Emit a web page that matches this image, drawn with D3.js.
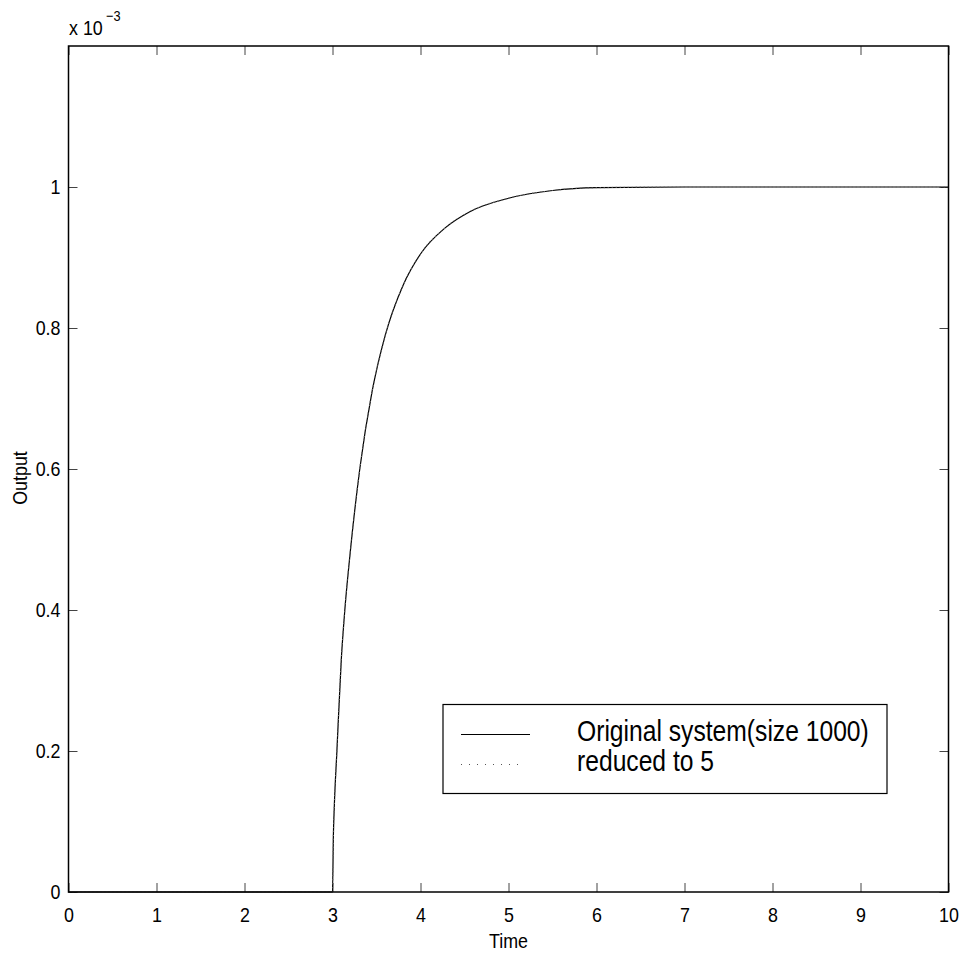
<!DOCTYPE html>
<html>
<head>
<meta charset="utf-8">
<script src="https://cdn.jsdelivr.net/npm/d3@7"></script>
<style>
  body { margin: 0; background: #fff; }
  svg text { font-family: "Liberation Sans", Arial, sans-serif; fill: #000; }
</style>
</head>
<body>
<svg id="chart"></svg>
<script>
// step response (output in units of 1e-3)
const timeOrig   = [0, 1, 2, 3, 3.01, 3.02, 3.05, 3.1, 3.14, 3.2, 3.31, 3.45, 3.6, 3.8, 4, 4.28, 4.56, 5, 5.5, 6, 7, 8, 9, 10]
const outputOrig = [0, 0, 0, 0, 0.08, 0.12, 0.2, 0.33, 0.4, 0.48, 0.6, 0.71, 0.79, 0.86, 0.905, 0.942, 0.965, 0.984, 0.995, 0.999, 1, 1, 1, 1]
const timeRed    = [0, 1, 2, 3, 3.01, 3.02, 3.05, 3.1, 3.14, 3.2, 3.31, 3.45, 3.6, 3.8, 4, 4.28, 4.56, 5, 5.5, 6, 7, 8, 9, 10]
const outputRed  = [0, 0, 0, 0, 0.08, 0.12, 0.2, 0.33, 0.4, 0.48, 0.6, 0.71, 0.79, 0.86, 0.905, 0.942, 0.965, 0.984, 0.995, 0.999, 1, 1, 1, 1]

const xTicks = [0, 1, 2, 3, 4, 5, 6, 7, 8, 9, 10]
const yTicks = [0, 0.2, 0.4, 0.6, 0.8, 1]
const legendLabels = ["Original system(size 1000)", "reduced to 5"]

const width = 964
const height = 957
const margin = {top: 46, right: 15.5, bottom: 65, left: 68.5}
const tickLen = 9
const narrowK = 0.85 // the original font is narrower than Liberation Sans

const svg = d3.select("#chart")
  .attr("width", width)
  .attr("height", height)

const x = d3.scaleLinear().domain([0, 10]).range([margin.left, width - margin.right])
const y = d3.scaleLinear().domain([0, 1.2]).range([height - margin.bottom, margin.top])

// squeeze text horizontally so it looks like the narrow original font
const narrow = sel => sel.each(function() {
  const len = this.getComputedTextLength()
  d3.select(this).attr("textLength", len * narrowK).attr("lengthAdjust", "spacingAndGlyphs")
})

const g = svg.append("g")

// inner ticks on all four sides
const xAxisB = d3.axisBottom(x).tickValues(xTicks).tickSize(-tickLen).tickPadding(15).tickFormat(d3.format("d"))
const xAxisT = d3.axisTop(x).tickValues(xTicks).tickSize(-tickLen).tickFormat("")
const yAxisL = d3.axisLeft(y).tickValues(yTicks).tickSize(-tickLen).tickPadding(8)
  .tickFormat(d => d === 0 || d === 1 ? d3.format("d")(d) : d3.format(".1f")(d))
const yAxisR = d3.axisRight(y).tickValues(yTicks).tickSize(-tickLen).tickFormat("")

const styleAxis = sel => {
  sel.select(".domain").remove()
  sel.selectAll(".tick line").attr("stroke", "#444").attr("stroke-width", 1)
  sel.selectAll(".tick text").style("font-size", "21px").call(narrow)
}

g.append("g").attr("transform", `translate(0,${y(0)})`).call(xAxisB).call(styleAxis)
g.append("g").attr("transform", `translate(0,${y(1.2)})`).call(xAxisT).call(styleAxis)
g.append("g").attr("transform", `translate(${x(0)},0)`).call(yAxisL).call(styleAxis)
g.append("g").attr("transform", `translate(${x(10)},0)`).call(yAxisR).call(styleAxis)

// curves
const line = d3.line().x(d => x(d[0])).y(d => y(d[1])).curve(d3.curveMonotoneX)

g.append("path")
  .datum(d3.zip(timeOrig, outputOrig))
  .attr("fill", "none")
  .attr("stroke", "#000")
  .attr("stroke-width", 1.2)
  .attr("d", line)

g.append("path")
  .datum(d3.zip(timeRed, outputRed))
  .attr("fill", "none")
  .attr("stroke", "#666")
  .attr("stroke-width", 1.2)
  .attr("stroke-dasharray", "1 3")
  .attr("d", line)

// box
g.append("rect")
  .attr("x", x(0)).attr("y", y(1.2))
  .attr("width", x(10) - x(0)).attr("height", y(0) - y(1.2))
  .attr("fill", "none").attr("stroke", "#000").attr("stroke-width", 1.5)

// exponent label
svg.append("text").attr("x", 69).attr("y", 34.5).style("font-size", "21px").text("x 10").call(narrow)
svg.append("text").attr("x", 106).attr("y", 21).style("font-size", "15px").text("\u22123").call(narrow)

// axis titles
svg.append("text")
  .attr("x", x(5)).attr("y", 948)
  .attr("text-anchor", "middle")
  .style("font-size", "21px")
  .text("Time")
  .call(narrow)

svg.append("text")
  .attr("transform", `translate(26.5,478) rotate(-90)`)
  .attr("text-anchor", "middle")
  .style("font-size", "21px")
  .text("Output")
  .call(narrow)

// legend
const lg = svg.append("g")
lg.append("rect")
  .attr("x", 443).attr("y", 704.5)
  .attr("width", 444).attr("height", 89)
  .attr("fill", "#fff").attr("stroke", "#000").attr("stroke-width", 1.2)

const legendRows = lg.selectAll(".row")
  .data(legendLabels)
  .join("g")
  .attr("transform", (d, i) => `translate(0,${734.5 + i * 30})`)

legendRows.append("line")
  .attr("x1", 461).attr("x2", (d, i) => i ? 524 : 530)
  .attr("stroke", (d, i) => i ? "#555" : "#000")
  .attr("stroke-width", 1)
  .attr("stroke-dasharray", (d, i) => i ? "1 7" : null)

legendRows.append("text")
  .attr("x", 577).attr("y", 6.5)
  .style("font-size", "29px")
  .text(d => d)
  .call(narrow)
</script>
</body>
</html>
